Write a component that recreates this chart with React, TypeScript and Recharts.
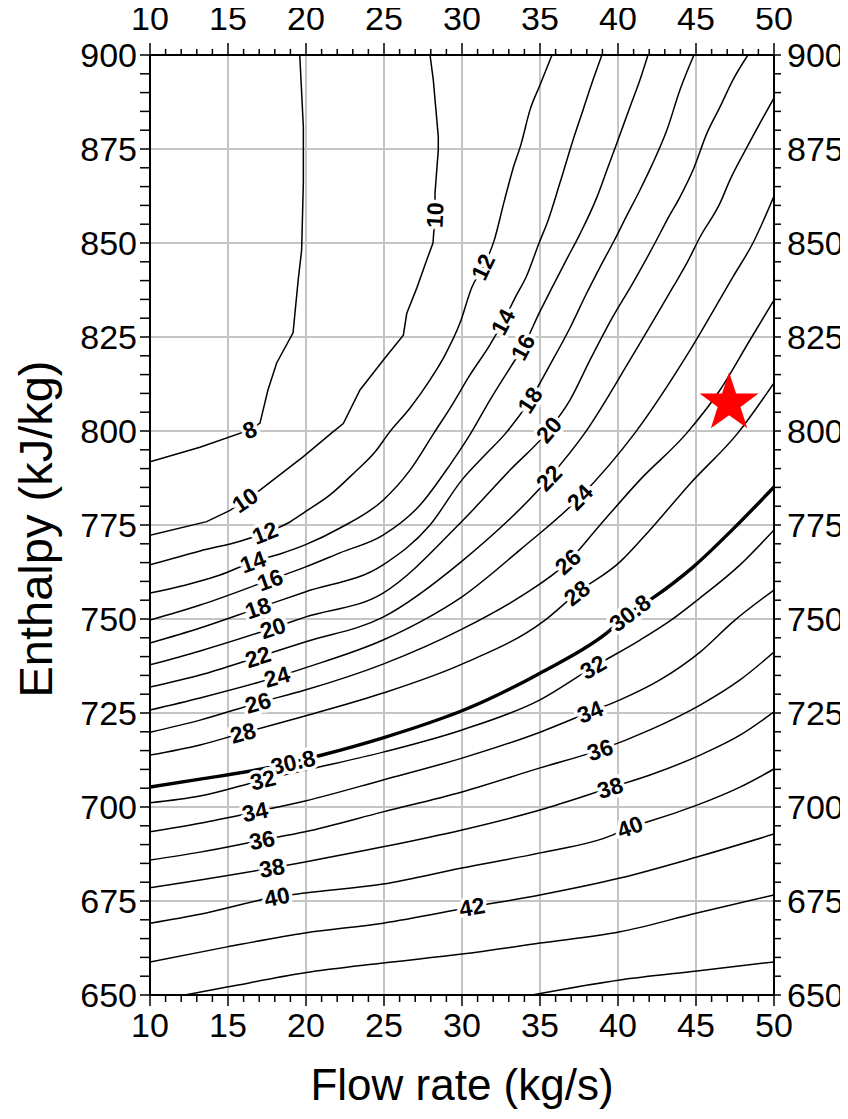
import React from "react";
import { ComposedChart, Line, XAxis, YAxis, Scatter, ReferenceLine } from "recharts";

// axis ticks
const flowMajor = [10, 15, 20, 25, 30, 35, 40, 45, 50];
const enthalpyMajor = [650, 675, 700, 725, 750, 775, 800, 825, 850, 875, 900];
const flowMinor = Array.from({ length: 41 }, (_, i) => 10 + i);
const enthalpyMinor = Array.from({ length: 51 }, (_, i) => 650 + i * 5);
const flowGrid = [15, 20, 25, 30, 35, 40, 45];
const enthalpyGrid = [675, 700, 725, 750, 775, 800, 825, 850, 875];

// contour lines, [flow rate, enthalpy]
const c8 = [[10, 791.8], [13.2, 795.7], [16.4, 800.3], [17.05, 802.1], [17.56, 810.9], [18.12, 818.1], [19.17, 826.1], [19.5, 840.2], [19.72, 848.1], [19.83, 866], [19.83, 880.9], [19.6, 900]];
const c10 = [[10, 772.3], [13.63, 775.9], [15.13, 778.9], [16.09, 781.6], [17.05, 784.3], [19.83, 793.2], [21.65, 799.5], [22.39, 802], [23.46, 810.9], [24.96, 818.9], [26.24, 825.5], [26.46, 831.3], [27.1, 838], [27.74, 845.5], [28.14, 850], [28.27, 857.4], [28.27, 863.3], [28.48, 874.7], [28.48, 878.3], [28.16, 893.4], [27.95, 900]];
const c12 = [[10, 764.4], [13.21, 768.1], [15.77, 770.7], [17.37, 772.9], [18.97, 775.8], [19.94, 778.5], [21.54, 783], [23.14, 789.1], [24.42, 794.4], [25.32, 799.5], [26.67, 806.1], [27.95, 813.6], [28.91, 820.2], [29.87, 828.7], [30.64, 838.3], [31.35, 843.6], [32.05, 850.5], [32.7, 861], [33.25, 869.5], [33.8, 876.5], [34.36, 885.4], [35, 892], [35.77, 900]];
const c14 = [[10, 756.9], [12.24, 759], [14.49, 761.7], [16.6, 765.2], [18.33, 767.3], [19.94, 769.7], [22.18, 774.2], [24.94, 781.6], [26.67, 789.6], [28.21, 799.5], [29.36, 806.9], [30.51, 814.9], [31.79, 822.9], [32.63, 829], [33.4, 835.4], [34.17, 841.5], [34.94, 850], [35.5, 855.8], [36.28, 866], [37.12, 877.4], [37.76, 885.4], [38.4, 893.4], [38.97, 900]];
const c16 = [[10, 749.7], [13.21, 753.7], [17.69, 760.4], [19.94, 763.8], [22.18, 767.6], [24.94, 772.3], [27.31, 780.3], [29.23, 791], [30.58, 799.5], [31.79, 808.2], [33.08, 816.8], [33.91, 822.3], [35, 831.8], [35.83, 838.6], [36.65, 845.2], [37.55, 852.3], [38.65, 862.2], [39.29, 869.4], [40, 877.4], [40.77, 886.2], [41.41, 893.4], [41.92, 900]];
const c18 = [[10, 743.6], [13.21, 747.6], [16.92, 752.9], [19.94, 757.2], [24.94, 764.4], [27.95, 775], [30, 787], [31.47, 793.6], [32.82, 799.5], [34.36, 808.2], [35.64, 817.6], [36.92, 827.4], [37.95, 836.3], [38.8, 843.2], [39.75, 850.6], [40.58, 857.4], [41.41, 864.1], [42.15, 870.5], [43.14, 880.1], [43.97, 890.7], [44.87, 900]];
const c20 = [[10, 737.8], [13.21, 741.5], [17.88, 747.6], [19.94, 750.5], [24.94, 756.9], [30, 776], [33.08, 789.6], [35.58, 800.3], [36.92, 808.2], [38.21, 818.9], [39.62, 830], [40.96, 839.4], [42.37, 850], [43.14, 856.1], [43.97, 862.2], [44.81, 869.4], [45.71, 879.3], [46.54, 886.2], [47.37, 893.4], [48.33, 900]];
const c22 = [[10, 731.9], [13.21, 735.1], [16.92, 739.9], [19.94, 743.9], [24.94, 750.5], [30, 765.4], [35.58, 787.5], [37.88, 799.5], [40.77, 818.9], [43.53, 838.3], [44.42, 844.7], [45.26, 851.6], [46.54, 860.6], [47.18, 866.8], [48.27, 875.5], [50, 888.6]];
const c24 = [[10, 725.8], [13.21, 729], [18.14, 734.6], [19.94, 737], [24.94, 744.4], [27.44, 749.5], [30, 755.9], [33.72, 768.4], [37.56, 782.4], [41.09, 799.5], [44.62, 821.5], [47.37, 841], [48.65, 850], [50, 862.5]];
const c26 = [[10, 719.9], [13.21, 723.1], [16.92, 727.7], [19.94, 731.1], [24.94, 738], [30, 747.3], [33.72, 755.9], [36.79, 765.2], [38.85, 775], [41.41, 787], [44.42, 799.5], [46.54, 810.9], [48.46, 824.2], [50, 834.8]];
const c28 = [[10, 713.8], [13.21, 716.5], [15.96, 719.7], [19.94, 724.2], [24.94, 730.3], [30, 738], [35.26, 749.5], [37.37, 756.9], [40.13, 765.2], [42.05, 773.7], [44.62, 786], [47.69, 799.5], [50, 812.8]];
const c308 = [[10, 705.3], [13.21, 707.4], [17.24, 710.2], [19.17, 711.9], [21.09, 713.9], [24.94, 718.4], [28.59, 723.4], [30, 725.6], [35, 735.6], [39.29, 746.3], [40.77, 751.6], [42.24, 755.6], [44.81, 763.8], [47.37, 773.9], [50, 785.1]];
const c32 = [[10, 701.1], [13.21, 702.9], [17.24, 707.2], [19.94, 709.8], [24.94, 714.6], [30, 720.5], [35, 728.5], [38.4, 737.2], [41.41, 744.4], [43.33, 749.5], [45.26, 755.6], [47.82, 764.4], [50, 773.7]];
const c34 = [[10, 693.4], [13.21, 695.7], [16.73, 698.7], [19.94, 701.6], [24.94, 707.2], [30, 713], [35, 719.9], [38.21, 725.3], [40.13, 728.5], [42.69, 733.8], [45.26, 741.2], [47.44, 749.5], [50, 757.7]];
const c36 = [[10, 685.9], [13.21, 688], [17.18, 691.2], [19.94, 693.4], [24.94, 698.7], [30, 704], [35, 710.4], [38.85, 715.2], [42.05, 720.5], [45.26, 727.1], [47.82, 733.8], [50, 741.2]];
const c38 = [[10, 678.5], [13.21, 680.6], [17.82, 683.8], [19.94, 685.4], [24.94, 689.4], [30, 693.9], [35, 699.2], [39.49, 705.1], [42.05, 708.5], [45.26, 713.8], [47.82, 719.1], [50, 725.3]];
const c40 = [[10, 669.1], [13.21, 671.5], [18.14, 676.1], [19.94, 677.1], [24.94, 679.5], [30, 683.8], [35, 687.8], [39.68, 692.6], [40.77, 694.7], [41.86, 696], [45.06, 700.5], [47.82, 705.3], [50, 710.1]];
const c42 = [[10, 658.8], [14.94, 662.8], [19.94, 666.5], [24.94, 669.1], [30.64, 673.4], [35, 676.6], [40.13, 681.1], [45.06, 686.7], [50, 692.8]];
const c44 = [[12.24, 650], [14.94, 652.1], [19.94, 655.9], [24.94, 658.5], [30, 660.9], [35, 663.8], [40.13, 666.8], [45.06, 671.8], [50, 676.6]];
const c46 = [[34.49, 650], [40.13, 654], [45.06, 656.4], [50, 658.8]];

const contours = [
  { level: "8", pts: c8 }, { level: "10", pts: c10 }, { level: "12", pts: c12 },
  { level: "14", pts: c14 }, { level: "16", pts: c16 }, { level: "18", pts: c18 },
  { level: "20", pts: c20 }, { level: "22", pts: c22 }, { level: "24", pts: c24 },
  { level: "26", pts: c26 }, { level: "28", pts: c28 }, { level: "30.8", pts: c308 },
  { level: "32", pts: c32 }, { level: "34", pts: c34 }, { level: "36", pts: c36 },
  { level: "38", pts: c38 }, { level: "40", pts: c40 }, { level: "42", pts: c42 },
  { level: "44", pts: c44 }, { level: "46", pts: c46 },
];

// the two upper-left lines fold back in x, so they stay straight-segmented
const foldedLevels = ["8", "10"];

const contourLabels = [
  { level: "8", x: 16.4, y: 800.3 },
  { level: "10", x: 16.09, y: 781.6 }, { level: "10", x: 28.27, y: 857.4 },
  { level: "12", x: 17.37, y: 772.9 }, { level: "12", x: 31.35, y: 843.6 },
  { level: "14", x: 16.6, y: 765.2 }, { level: "14", x: 32.63, y: 829 },
  { level: "16", x: 17.69, y: 760.4 }, { level: "16", x: 33.91, y: 822.3 },
  { level: "18", x: 16.92, y: 752.9 }, { level: "18", x: 34.36, y: 808.2 },
  { level: "20", x: 17.88, y: 747.6 }, { level: "20", x: 35.58, y: 800.3 },
  { level: "22", x: 16.92, y: 739.9 }, { level: "22", x: 35.58, y: 787.5 },
  { level: "24", x: 18.14, y: 734.6 }, { level: "24", x: 37.56, y: 782.4 },
  { level: "26", x: 16.92, y: 727.7 }, { level: "26", x: 36.79, y: 765.2 },
  { level: "28", x: 15.96, y: 719.7 }, { level: "28", x: 37.37, y: 756.9 },
  { level: "30.8", x: 19.17, y: 711.9 }, { level: "30.8", x: 40.77, y: 751.6 },
  { level: "32", x: 17.24, y: 707.2 }, { level: "32", x: 38.4, y: 737.2 },
  { level: "34", x: 16.73, y: 698.7 }, { level: "34", x: 38.21, y: 725.3 },
  { level: "36", x: 17.18, y: 691.2 }, { level: "36", x: 38.85, y: 715.2 },
  { level: "38", x: 17.82, y: 683.8 }, { level: "38", x: 39.49, y: 705.1 },
  { level: "40", x: 18.14, y: 676.1 }, { level: "40", x: 40.77, y: 694.7 },
  { level: "42", x: 30.64, y: 673.4 },
];

const designPoint = [{ x: 47.12, y: 807.4 }];

const W = 848;
const H = 1119;
const M = { top: 15, right: 0, bottom: 84, left: 70 };
const PLOT_W = W - M.left - 80 - 74;
const PLOT_H = H - M.top - M.bottom - 80;
const PX_X = PLOT_W / 40;
const PX_Y = PLOT_H / 250;
const FONT = '"Liberation Sans", Arial, Helvetica, sans-serif';

function labelAngle(level: string, x: number, y: number) {
  const c = contours.find((d) => d.level === level);
  if (!c) return 0;
  const pts = c.pts;
  let best = 0;
  let bd = Infinity;
  pts.forEach((p, i) => {
    const d = ((p[0] - x) * PX_X) ** 2 + ((p[1] - y) * PX_Y) ** 2;
    if (d < bd) { bd = d; best = i; }
  });
  const a = pts[Math.max(0, best - 1)];
  const b = pts[Math.min(pts.length - 1, best + 1)];
  let ang = (Math.atan2(-(b[1] - a[1]) * PX_Y, (b[0] - a[0]) * PX_X) * 180) / Math.PI;
  if (ang > 90) ang -= 180;
  if (ang < -90) ang += 180;
  return ang;
}

const ContourLabel = (props: any) => {
  const { cx, cy, payload } = props;
  const ang = labelAngle(payload.level, payload.x, payload.y);
  return (
    <text
      x={cx}
      y={cy}
      transform={`rotate(${ang} ${cx} ${cy})`}
      textAnchor="middle"
      dominantBaseline="central"
      fontSize={23}
      fontWeight="bold"
      fontFamily={FONT}
      fill="#000"
      stroke="#fff"
      strokeWidth={7}
      strokeLinejoin="round"
      paintOrder="stroke"
    >
      {payload.level}
    </text>
  );
};

const Star = (props: any) => {
  const { cx, cy } = props;
  const R = 31;
  const r = 12;
  const pts: string[] = [];
  for (let i = 0; i < 10; i++) {
    const a = -Math.PI / 2 + (i * Math.PI) / 5;
    const rad = i % 2 === 0 ? R : r;
    pts.push(`${cx + rad * Math.cos(a)},${cy + rad * Math.sin(a)}`);
  }
  return <polygon points={pts.join(" ")} fill="#ff0000" />;
};

const makeTick = (side: string, majors: number[]) => (props: any) => {
  const { x, y, payload } = props;
  const v = payload.value;
  const major = majors.includes(v);
  const txt = { fontSize: 34, fontFamily: FONT, fill: "#000" };
  if (side === "top") {
    return (
      <g>
        <line x1={x} y1={y} x2={x} y2={y - (major ? 12 : 6)} stroke="#000" strokeWidth={1.5} />
        {major && <text x={x} y={y - 25} textAnchor="middle" {...txt}>{v}</text>}
      </g>
    );
  }
  if (side === "bottom") {
    return (
      <g>
        <line x1={x} y1={y} x2={x} y2={y + (major ? 11 : 7)} stroke="#000" strokeWidth={1.5} />
        {major && <text x={x} y={y + 42} textAnchor="middle" {...txt}>{v}</text>}
      </g>
    );
  }
  if (side === "left") {
    return (
      <g>
        <line x1={x} y1={y} x2={x - 10} y2={y} stroke="#000" strokeWidth={1.5} />
        {major && <text x={x - 13} y={y + 12} textAnchor="end" {...txt}>{v}</text>}
      </g>
    );
  }
  return (
    <g>
      <line x1={x} y1={y} x2={x + 7} y2={y} stroke="#000" strokeWidth={1.5} />
      {major && <text x={x + 13} y={y + 12} textAnchor="start" {...txt}>{v}</text>}
    </g>
  );
};

export default function App() {
  return (
    <div style={{ position: "relative", width: W, height: H, margin: -8, background: "#fff", fontFamily: FONT }}>
      <ComposedChart width={W} height={H} margin={M}>
        <XAxis xAxisId="b" dataKey="x" type="number" domain={[10, 50]} allowDataOverflow orientation="bottom" height={40}
          ticks={flowMinor} interval={0} tickLine={false} tickSize={0} tickMargin={0}
          axisLine={{ stroke: "#000", strokeWidth: 2 }} tick={makeTick("bottom", flowMajor)} />
        <XAxis xAxisId="t" dataKey="x" type="number" domain={[10, 50]} allowDataOverflow orientation="top" height={40}
          ticks={flowMinor} interval={0} tickLine={false} tickSize={0} tickMargin={0}
          axisLine={{ stroke: "#000", strokeWidth: 2 }} tick={makeTick("top", flowMajor)} />
        <YAxis yAxisId="l" dataKey="y" type="number" domain={[650, 900]} allowDataOverflow orientation="left" width={80}
          ticks={enthalpyMinor} interval={0} tickLine={false} tickSize={0} tickMargin={0}
          axisLine={{ stroke: "#000", strokeWidth: 2 }} tick={makeTick("left", enthalpyMajor)} />
        <YAxis yAxisId="r" dataKey="y" type="number" domain={[650, 900]} allowDataOverflow orientation="right" width={74}
          ticks={enthalpyMinor} interval={0} tickLine={false} tickSize={0} tickMargin={0}
          axisLine={{ stroke: "#000", strokeWidth: 2 }} tick={makeTick("right", enthalpyMajor)} />

        {flowGrid.map((v) => (
          <ReferenceLine key={`gx${v}`} xAxisId="b" yAxisId="l" x={v} stroke="#c4c4c4" strokeWidth={2} />
        ))}
        {enthalpyGrid.map((v) => (
          <ReferenceLine key={`gy${v}`} xAxisId="b" yAxisId="l" y={v} stroke="#c4c4c4" strokeWidth={2} />
        ))}

        {contours.map((c) => (
          <Line
            key={c.level}
            xAxisId="b"
            yAxisId="l"
            data={c.pts.map((p) => ({ x: p[0], y: p[1] }))}
            dataKey="y"
            type={foldedLevels.includes(c.level) ? "linear" : "monotoneX"}
            stroke="#000"
            strokeWidth={c.level === "30.8" ? 3.4 : 1.5}
            dot={false}
            activeDot={false}
            isAnimationActive={false}
          />
        ))}

        <Scatter xAxisId="b" yAxisId="l" data={contourLabels} shape={ContourLabel} isAnimationActive={false} />
        <Scatter xAxisId="t" yAxisId="r" data={designPoint} shape={Star} isAnimationActive={false} />
      </ComposedChart>

      <div style={{ position: "absolute", left: 150, width: 624, top: 1063, textAlign: "center", fontSize: 44, lineHeight: "44px", color: "#000" }}>
        Flow rate (kg/s)
      </div>
      <div style={{ position: "absolute", left: 35, top: 529, transform: "translate(-50%, -50%) rotate(-90deg)", whiteSpace: "nowrap", fontSize: 47, lineHeight: "47px", color: "#000" }}>
        Enthalpy (kJ/kg)
      </div>
    </div>
  );
}
